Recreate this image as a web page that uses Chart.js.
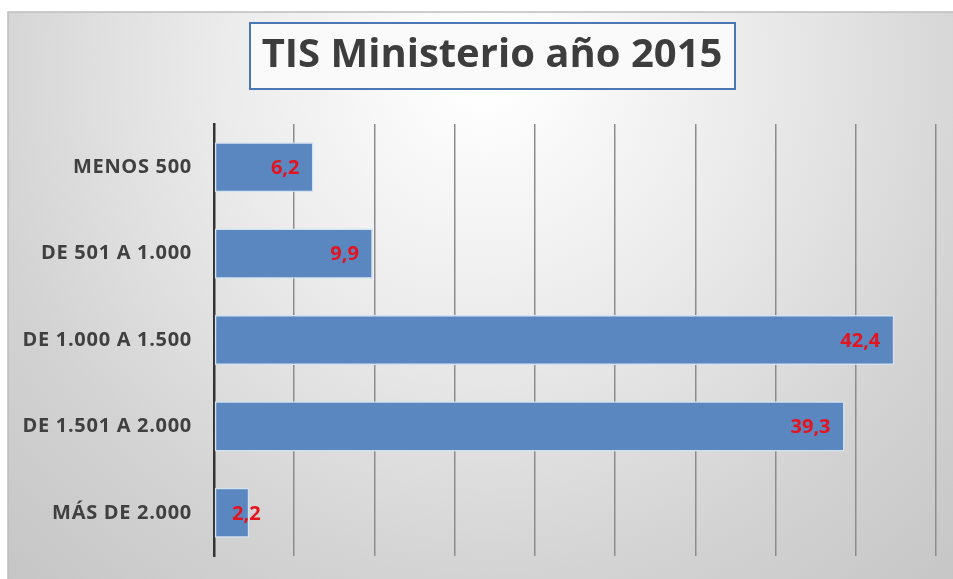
<!DOCTYPE html>
<html>
<head>
<meta charset="utf-8">
<script src="https://cdn.jsdelivr.net/npm/chart.js@4/dist/chart.umd.min.js"></script>
<style>
html,body{margin:0;padding:0;background:#fff;overflow:hidden;}
#wrap{width:953px;height:579px;position:relative;}
canvas{display:block;}
</style>
</head>
<body>
<div id="wrap"><canvas id="c" width="953" height="579"></canvas></div>
<script>
const titleText = 'TIS Ministerio año 2015';
const categories = ['MENOS 500', 'DE 501 A 1.000', 'DE 1.000 A 1.500', 'DE 1.501 A 2.000', 'MÁS DE 2.000'];
const values = [6.2, 9.9, 42.4, 39.3, 2.2];
const valueLabels = ['6,2', '9,9', '42,4', '39,3', '2,2'];
const axisMin = 0, axisMax = 45, axisStep = 5;

const FONT = '"Open Sans", "Liberation Sans", sans-serif';

const bgPlugin = {
  id: 'bg',
  beforeDraw(chart) {
    const ctx = chart.ctx;
    ctx.save();
    const x0 = 8, y0 = 12, x1 = 953, y1 = 579;
    const g = ctx.createRadialGradient(485, 70, 20, 485, 70, 720);
    g.addColorStop(0, '#ffffff');
    g.addColorStop(0.35, '#ebebeb');
    g.addColorStop(0.7, '#d3d3d3');
    g.addColorStop(1, '#c4c4c4');
    ctx.fillStyle = g;
    ctx.fillRect(x0, y0, x1 - x0, y1 - y0);
    ctx.strokeStyle = '#bdbdbd';
    ctx.lineWidth = 1.5;
    ctx.beginPath();
    ctx.moveTo(x0, y1); ctx.lineTo(x0, y0); ctx.lineTo(x1, y0);
    ctx.stroke();
    // title box
    ctx.fillStyle = '#fafafa';
    ctx.fillRect(250, 23, 485, 66);
    ctx.strokeStyle = '#4a78b4';
    ctx.lineWidth = 2;
    ctx.strokeRect(250, 23, 485, 66);
    ctx.fillStyle = '#3d3d3d';
    ctx.font = 'bold 40px ' + FONT;
    ctx.textAlign = 'center';
    ctx.textBaseline = 'middle';
    ctx.fillText(titleText, 492, 56);
    ctx.restore();
    ctx.letterSpacing = '0.7px';
  }
};

const valuePlugin = {
  id: 'vals',
  afterDatasetsDraw(chart) {
    const ctx = chart.ctx;
    const meta = chart.getDatasetMeta(0);
    const left = chart.scales.x.getPixelForValue(0);
    ctx.save();
    ctx.letterSpacing = '0px';
    ctx.font = 'bold 20px ' + FONT;
    ctx.fillStyle = '#e4141e';
    ctx.textBaseline = 'middle';
    ctx.textAlign = 'left';
    meta.data.forEach((bar, i) => {
      const t = valueLabels[i];
      const w = ctx.measureText(t).width;
      let lx = bar.x - 14 - w;
      if (lx < left + 18) lx = left + 18;
      ctx.fillText(t, lx, bar.y + 1);
    });
    ctx.restore();
  }
};

new Chart(document.getElementById('c'), {
  type: 'bar',
  data: {
    labels: categories,
    datasets: [{
      data: values,
      backgroundColor: '#5b87c1',
      borderColor: '#d2e2f3',
      borderWidth: 1.5,
      borderSkipped: false,
      barPercentage: 0.58,
      categoryPercentage: 1
    }]
  },
  options: {
    indexAxis: 'y',
    responsive: false,
    animation: false,
    layout: { padding: { top: 124, right: 17, bottom: 23, left: 0 } },
    plugins: { legend: { display: false }, tooltip: { enabled: false }, title: { display: false } },
    scales: {
      x: {
        min: axisMin, max: axisMax,
        afterFit(scale) { scale.height = 0; scale.paddingLeft = 0; scale.paddingRight = 0; },
        ticks: { display: false, stepSize: axisStep },
        grid: { color: '#8c8c8c', lineWidth: 1.5, drawTicks: false },
        border: { display: false }
      },
      y: {
        afterFit(scale) { scale.width = 214; scale.paddingTop = 0; scale.paddingBottom = 0; },
        ticks: { color: '#404040', font: { family: FONT, size: 20, weight: 'bold' }, padding: 22 },
        grid: { display: false, drawTicks: false },
        border: { display: true, color: '#333333', width: 2.5 }
      }
    }
  },
  plugins: [bgPlugin, valuePlugin]
});
</script>
</body>
</html>
